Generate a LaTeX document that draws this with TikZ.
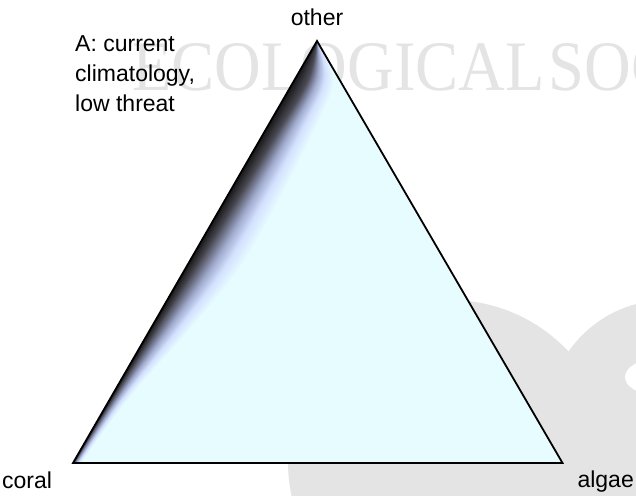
\documentclass[tikz,border=0pt]{standalone}
\usepackage{fontspec}
\setmainfont{Liberation Sans}
\newfontfamily\wmfont{Liberation Serif}
\newcommand\myband[3]{%
  \fill[#3] plot[smooth, tension=0.6] coordinates {
    (317,41)
    ({294.4+#1*14+#2*40},80)
    ({263.8+#1*14+#2*50},133)
    ({225.1+#1*13+#2*55},200)
    ({186.3+#1*11+#2*55},267)
    ({149.9+#1*7+#2*40},330)
    ({109.4+#1*3+#2*18},400)
    ({73+#1*1+#2*8},463)
  } -- (73,480) -- (0,480) -- (0,30) -- (317,30) -- cycle;}
\begin{document}
\begin{tikzpicture}[x=1pt,y=-1pt,
  lbl/.style={inner sep=0pt, font=\fontsize{23}{30}\selectfont},
  edgeline/.style={line width=1.8pt, line join=miter}]
\definecolor{basefill}{RGB}{231,252,255}
\definecolor{wmgray}{RGB}{229,228,228}
\useasboundingbox (0,0) rectangle (636,495);
\clip (0,0) rectangle (636,495);
% watermark
\fill[wmgray] (450,462) circle[radius=162];
\fill[wmgray] (667,420) circle[radius=120];
\fill[white] (657,377) ellipse[x radius=32, y radius=18];
\node[anchor=base west, inner sep=0pt, text=wmgray,
      font=\wmfont\fontsize{71}{71}\selectfont, xscale=0.91] (wm) at (132,90) {ECOLOGICAL\hspace{4pt}SOC};
% triangle
\coordinate (coralV) at (73,463);
\coordinate (algaeV) at (562.5,463);
\coordinate (otherV) at (317,41);
\begin{scope}
  \clip (otherV) -- (coralV) -- (algaeV) -- cycle;
  \fill[basefill] (0,0) rectangle (636,495);
  \foreach \i in {24,...,1}{
    \pgfmathsetmacro\s{\i/24}
    \pgfmathsetmacro\da{1-\s}
    \pgfmathtruncatemacro\colR{\s<0.35 ? 75+85*\s/0.35 : (\s<0.65 ? 160+52*(\s-0.35)/0.3 : 212+19*(\s-0.65)/0.35)}
    \pgfmathtruncatemacro\colG{\s<0.35 ? 75+95*\s/0.35 : (\s<0.65 ? 170+55*(\s-0.35)/0.3 : 225+27*(\s-0.65)/0.35)}
    \pgfmathtruncatemacro\colB{\s<0.35 ? 85+120*\s/0.35 : (\s<0.65 ? 205+50*(\s-0.35)/0.3 : 255)}
    \definecolor{bandc}{RGB}{\colR,\colG,\colB}
    \myband{\da}{\s}{bandc}
  }
  \foreach \i in {10,...,1}{
    \pgfmathsetmacro\s{\i/10}
    \pgfmathtruncatemacro\colR{20+55*\s}
    \pgfmathtruncatemacro\colG{20+55*\s}
    \pgfmathtruncatemacro\colB{20+65*\s}
    \definecolor{bandc}{RGB}{\colR,\colG,\colB}
    \myband{\s}{0}{bandc}
  }
\end{scope}
\draw[edgeline] (otherV) -- (coralV) -- (algaeV) -- cycle;
% labels
\node[lbl, anchor=base] (otherL) at (317,26) {other};
\node[lbl, anchor=base west] (coralL) at (2,488) {coral};
\node[lbl, anchor=base east] (algaeL) at (634,487) {algae};
\node[lbl, anchor=north west, align=left] (title) at (75,35) {A: current\\climatology,\\low threat};
\end{tikzpicture}
\end{document}
